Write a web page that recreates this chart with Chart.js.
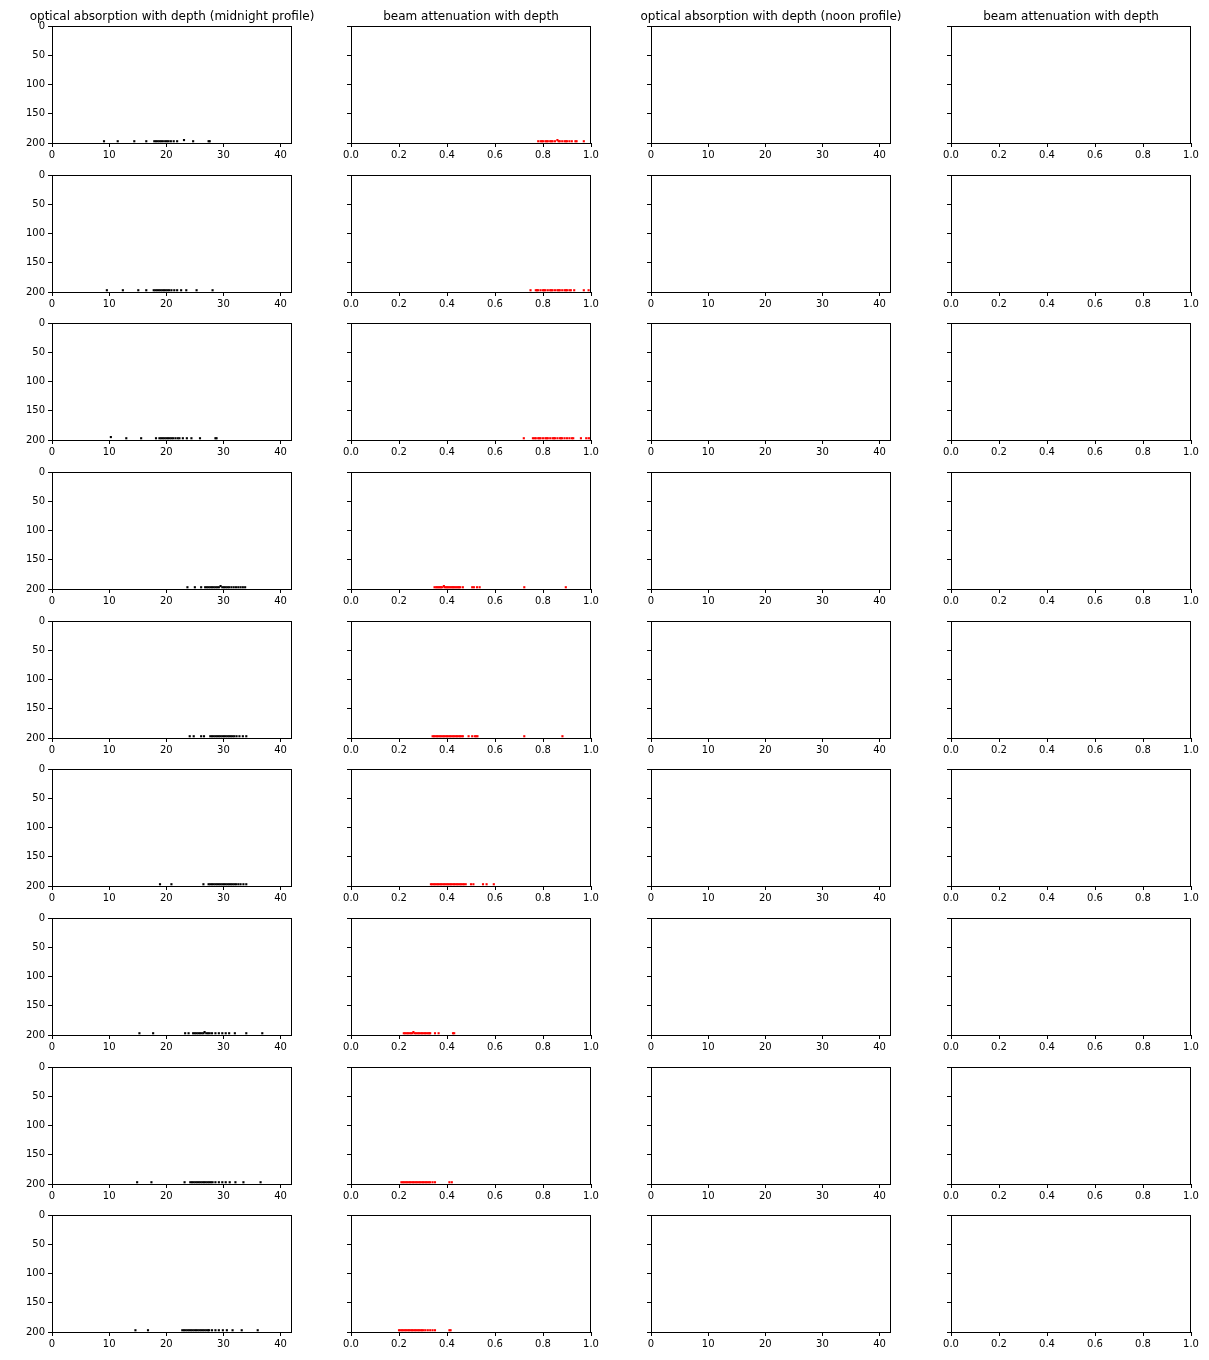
<!DOCTYPE html>
<html>
<head>
<meta charset="utf-8">
<script src="https://cdn.jsdelivr.net/npm/chart.js@4/dist/chart.umd.min.js"></script>
<style>
html,body{margin:0;padding:0;background:#fff;}
#wrap{position:relative;width:1209px;height:1360px;overflow:hidden;}
canvas{position:absolute;}
</style>
</head>
<body>
<div id="wrap"></div>
<script>
// ---------- titles / tick labels ----------
const columnTitles = [
  "optical absorption with depth (midnight profile)",
  "beam attenuation with depth",
  "optical absorption with depth (noon profile)",
  "beam attenuation with depth"
];
const depthTicks = [0, 50, 100, 150, 200];
const absorptionTicks = [0, 10, 20, 30, 40];
const attenuationTicks = [0.0, 0.2, 0.4, 0.6, 0.8, 1.0];

// ---------- data (midnight profile, one list per row) ----------
const absRow1 = [9.1, 11.5, 14.4, 16.5, 17.9, 18.2, 18.5, 18.8, 19.1, 19.4, 19.8, 20.1, 20.4, 20.8, 21.3, 21.9, 24.7, 27.4, 27.6];
const absRow2 = [9.6, 12.4, 15.1, 16.5, 17.8, 18.1, 18.4, 18.7, 19.0, 19.3, 19.6, 19.9, 20.2, 20.5, 20.9, 21.4, 21.9, 22.6, 23.5, 25.3, 28.1];
const absRow3 = [13.0, 15.6, 18.2, 18.8, 19.1, 19.4, 19.7, 20.0, 20.3, 20.6, 20.9, 21.2, 21.6, 22.0, 22.3, 22.9, 23.6, 24.4, 25.9, 28.6, 28.8];
const absRow4 = [23.7, 25.0, 26.1, 26.8, 27.1, 27.4, 27.7, 28.0, 28.3, 28.6, 28.9, 29.2, 29.8, 30.1, 30.4, 30.7, 31.0, 31.4, 31.8, 32.2, 32.6, 33.0, 33.4, 33.8];
const absRow5 = [24.1, 24.8, 26.1, 26.6, 27.7, 28.0, 28.3, 28.6, 28.9, 29.2, 29.5, 29.8, 30.1, 30.4, 30.7, 31.0, 31.3, 31.6, 31.9, 32.3, 32.8, 33.4, 34.0];
const absRow6 = [18.9, 20.9, 26.5, 27.4, 27.7, 28.0, 28.3, 28.6, 28.9, 29.2, 29.5, 29.8, 30.1, 30.4, 30.7, 31.0, 31.3, 31.6, 31.9, 32.2, 32.6, 33.0, 33.5, 34.0];
const absRow7 = [15.3, 17.7, 23.3, 23.9, 24.7, 25.0, 25.3, 25.6, 25.9, 26.2, 26.5, 27.0, 27.3, 27.6, 28.0, 28.6, 29.2, 29.8, 30.4, 31.0, 32.0, 34.0, 36.8];
const absRow8 = [14.9, 17.4, 23.2, 24.2, 24.5, 24.8, 25.1, 25.4, 25.7, 26.0, 26.3, 26.6, 26.9, 27.2, 27.5, 27.8, 28.1, 28.6, 29.2, 29.8, 30.4, 31.1, 32.1, 33.5, 36.5];
const absRow9 = [14.6, 16.8, 22.8, 23.1, 23.4, 23.7, 24.0, 24.3, 24.6, 24.9, 25.2, 25.5, 25.8, 26.1, 26.4, 26.7, 27.0, 27.3, 27.5, 28.0, 28.6, 29.2, 29.9, 30.6, 31.6, 33.2, 36.0];

const attRow1 = [0.78, 0.79, 0.795, 0.80, 0.81, 0.815, 0.82, 0.83, 0.835, 0.84, 0.85, 0.865, 0.87, 0.88, 0.89, 0.895, 0.90, 0.91, 0.92, 0.935, 0.94, 0.97];
const attRow2 = [0.748, 0.77, 0.775, 0.78, 0.79, 0.80, 0.805, 0.81, 0.82, 0.83, 0.835, 0.84, 0.85, 0.86, 0.865, 0.87, 0.88, 0.89, 0.895, 0.90, 0.91, 0.916, 0.93, 0.97, 0.99];
const attRow3 = [0.72, 0.758, 0.765, 0.77, 0.78, 0.785, 0.79, 0.80, 0.81, 0.815, 0.82, 0.83, 0.84, 0.845, 0.85, 0.86, 0.87, 0.875, 0.88, 0.89, 0.90, 0.91, 0.92, 0.926, 0.958, 0.98, 0.99, 0.997];
const attRow4 = [0.348, 0.355, 0.36, 0.365, 0.37, 0.375, 0.38, 0.39, 0.395, 0.40, 0.405, 0.41, 0.415, 0.42, 0.425, 0.43, 0.435, 0.44, 0.445, 0.45, 0.455, 0.466, 0.505, 0.512, 0.525, 0.536, 0.722, 0.895];
const attRow5 = [0.34, 0.346, 0.352, 0.358, 0.364, 0.37, 0.376, 0.382, 0.388, 0.394, 0.40, 0.406, 0.412, 0.418, 0.424, 0.43, 0.436, 0.442, 0.448, 0.454, 0.46, 0.466, 0.49, 0.505, 0.516, 0.522, 0.527, 0.722, 0.881];
const attRow6 = [0.333, 0.339, 0.345, 0.351, 0.357, 0.363, 0.369, 0.375, 0.381, 0.387, 0.393, 0.399, 0.405, 0.411, 0.417, 0.423, 0.429, 0.435, 0.441, 0.447, 0.453, 0.459, 0.465, 0.471, 0.478, 0.50, 0.51, 0.55, 0.565, 0.595];
const attRow7 = [0.22, 0.226, 0.232, 0.238, 0.244, 0.25, 0.256, 0.266, 0.272, 0.278, 0.284, 0.29, 0.296, 0.302, 0.308, 0.314, 0.32, 0.326, 0.33, 0.35, 0.365, 0.425, 0.43];
const attRow8 = [0.21, 0.216, 0.222, 0.228, 0.234, 0.24, 0.246, 0.252, 0.258, 0.264, 0.27, 0.276, 0.282, 0.288, 0.294, 0.30, 0.306, 0.312, 0.318, 0.324, 0.33, 0.34, 0.35, 0.41, 0.42];
const attRow9 = [0.20, 0.206, 0.212, 0.218, 0.224, 0.23, 0.236, 0.242, 0.248, 0.254, 0.26, 0.266, 0.272, 0.278, 0.284, 0.29, 0.296, 0.302, 0.31, 0.32, 0.33, 0.34, 0.35, 0.41, 0.415];

// sample depth of each row (m) and the few samples plotted slightly shallower
const sampleDepth = [197, 197, 197, 197, 197, 197, 197, 197, 197];
const absShallow = [[23.1], [], [10.3], [29.5], [], [], [26.7], [], []];
const attShallow = [[0.86], [], [], [0.387], [], [], [0.26], [], []];
const shallowDepth = 195;

const absRows = [absRow1, absRow2, absRow3, absRow4, absRow5, absRow6, absRow7, absRow8, absRow9];
const attRows = [attRow1, attRow2, attRow3, attRow4, attRow5, attRow6, attRow7, attRow8, attRow9];

// ---------- layout ----------
const colLeft = [52, 351, 651, 951];
const rowTop = [26, 175, 323, 472, 621, 769, 918, 1067, 1215];
const plotW = 240, plotH = 117;
const padL = 45, padR = 45, padT = 26, padB = 22;
const FONT = "'DejaVu Sans', 'Liberation Sans', sans-serif";

const framePlugin = {
  id: 'frame',
  afterDraw(chart, args, opts) {
    const a = chart.chartArea, ctx = chart.ctx;
    ctx.save();
    ctx.strokeStyle = '#000';
    ctx.lineWidth = 1;
    ctx.strokeRect(Math.round(a.left) + 0.5, Math.round(a.top) + 0.5, Math.round(a.right - a.left) - 1, Math.round(a.bottom - a.top));
    if (opts && opts.title) {
      ctx.fillStyle = '#000';
      ctx.font = '12px ' + FONT;
      ctx.textAlign = 'center';
      ctx.textBaseline = 'alphabetic';
      ctx.fillText(opts.title, (a.left + a.right) / 2, a.top - 6);
    }
    ctx.restore();
  }
};

function makePanel(r, c) {
  const wrap = document.getElementById('wrap');
  const cv = document.createElement('canvas');
  const W = padL + plotW + padR, H = padT + plotH + padB;
  cv.width = W; cv.height = H;
  cv.style.width = W + 'px'; cv.style.height = H + 'px';
  cv.style.left = (colLeft[c] - padL) + 'px';
  cv.style.top = (rowTop[r] - padT) + 'px';
  wrap.appendChild(cv);

  const isAbs = (c === 0 || c === 2);
  const datasets = [];
  if (c === 0 || c === 1) {
    const xs = c === 0 ? absRows[r] : attRows[r];
    const sh = c === 0 ? absShallow[r] : attShallow[r];
    const pts = xs.map(v => ({x: v, y: sampleDepth[r]})).concat(sh.map(v => ({x: v, y: shallowDepth})));
    const col = c === 0 ? '#000000' : '#ff0000';
    datasets.push({
      data: pts, pointStyle: 'rect', pointRadius: 1.5, pointHoverRadius: 1.5,
      backgroundColor: col, borderColor: col, borderWidth: 0, showLine: false
    });
  }
  const xTicks = isAbs ? absorptionTicks : attenuationTicks;

  new Chart(cv, {
    type: 'scatter',
    data: {datasets},
    options: {
      responsive: false, animation: false, devicePixelRatio: 1,
      events: [],
      layout: {padding: {top: padT, left: 0, right: padR, bottom: 0}},
      plugins: {
        legend: {display: false}, tooltip: {enabled: false}, title: {display: false},
        frame: {title: r === 0 ? columnTitles[c] : ''}
      },
      scales: {
        x: {
          type: 'linear', min: 0, max: isAbs ? 42 : 1.0, offset: false,
          afterBuildTicks: s => { s.ticks = xTicks.map(v => ({value: v})); },
          afterFit: s => { s.height = padB; },
          grid: {display: true, drawOnChartArea: false, drawTicks: true, tickLength: 4, color: '#000', lineWidth: 1},
          border: {display: false},
          ticks: {
            color: '#000', font: {family: FONT, size: 10}, padding: 2, maxRotation: 0, autoSkip: false,
            callback: v => isAbs ? String(v) : Number(v).toFixed(1)
          }
        },
        y: {
          type: 'linear', min: 0, max: 200, reverse: true,
          afterBuildTicks: s => { s.ticks = depthTicks.map(v => ({value: v})); },
          afterFit: s => { s.width = padL; },
          grid: {display: true, drawOnChartArea: false, drawTicks: true, tickLength: 4, color: '#000', lineWidth: 1},
          border: {display: false},
          ticks: {
            display: c === 0, color: '#000', font: {family: FONT, size: 10}, padding: 3, autoSkip: false,
            callback: v => String(v)
          }
        }
      }
    },
    plugins: [framePlugin]
  });
}

for (let r = 0; r < 9; r++) for (let c = 0; c < 4; c++) makePanel(r, c);
</script>
</body>
</html>
